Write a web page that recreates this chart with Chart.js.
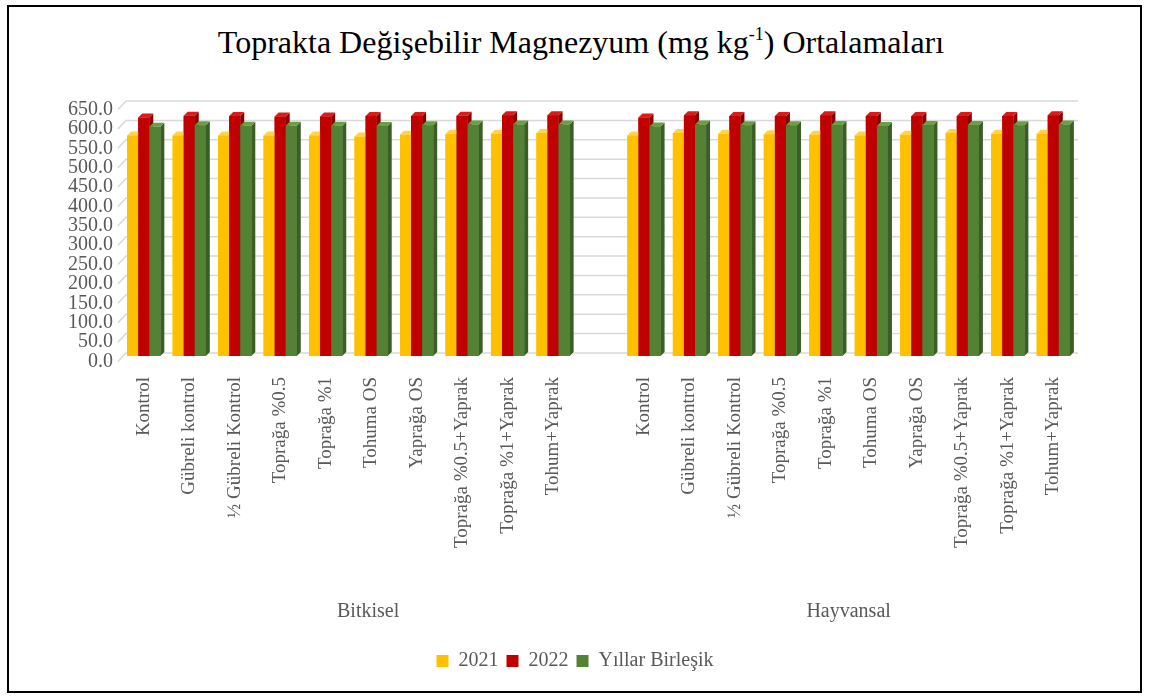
<!DOCTYPE html>
<html>
<head>
<meta charset="utf-8">
<script src="https://cdn.jsdelivr.net/npm/chart.js@4.4.1/dist/chart.umd.min.js"></script>
<style>
  html, body { margin: 0; padding: 0; background: #fff; }
  #wrap { position: relative; width: 1150px; height: 699px; overflow: hidden; }
  #frame { position: absolute; left: 7px; top: 5px; width: 1131px; height: 684px; border: 2px solid #000; }
  #title { position: absolute; left: 0; top: 24px; width: 1162px; text-align: center;
           font: 32px "Liberation Serif", "Times New Roman", serif; color: #000; }
  #title sup { font-size: 18px; vertical-align: 13px; line-height: 0; }
  canvas { position: absolute; left: 0; top: 0; }
</style>
</head>
<body>
<div id="wrap">
  <div id="frame"></div>
  <div id="title">Toprakta Değişebilir Magnezyum (mg kg<sup>-1</sup>) Ortalamaları</div>
  <canvas id="chart" width="1150" height="699"></canvas>
</div>
<script>
const categories = ["Kontrol", "Gübreli kontrol", "½ Gübreli Kontrol", "Toprağa %0.5", "Toprağa %1",
  "Tohuma OS", "Yaprağa OS", "Toprağa %0.5+Yaprak", "Toprağa %1+Yaprak", "Tohum+Yaprak"];
const groups = ["Bitkisel", "Hayvansal"];
const seriesNames = ["2021", "2022", "Yıllar Birleşik"];

const bitkisel2021 = [569, 569, 569, 569, 569, 566, 571, 573, 573, 575];
const bitkisel2022 = [615, 620, 619, 618, 618, 619, 619, 620, 621, 621];
const bitkiselBirlesik = [591, 595, 594, 594, 594, 593, 595, 597, 597, 597];

const hayvansal2021 = [569, 575, 573, 572, 571, 569, 571, 575, 573, 573];
const hayvansal2022 = [615, 621, 619, 619, 621, 619, 619, 619, 619, 621];
const hayvansalBirlesik = [592, 597, 595, 595, 596, 593, 596, 596, 595, 597];

const yTicks = [0, 50, 100, 150, 200, 250, 300, 350, 400, 450, 500, 550, 600, 650];

const colors = ["#FFC000", "#C00000", "#548235"];
const sideColors = ["#c79600", "#8a0000", "#3b5e25"];
const topColors = ["#ffd24a", "#dc1a1a", "#68a043"];

// one blank category between the two groups, like the Excel sheet
const labels = [...categories, "", ...categories];
const join = (a, b) => [...a, null, ...b];

const DEPTH = 4;      // bar 3D depth
const WALL_DX = 8;    // back wall offset
const WALL_UP = 3;
const LABEL_DOWN = 5.5;

const serif = "'Liberation Serif', 'Times New Roman', serif";

const threeD = {
  id: "threeD",
  beforeDatasetsDraw(chart) {
    const { ctx, chartArea, scales: { y } } = chart;
    ctx.save();
    ctx.strokeStyle = "#d9d9d9";
    ctx.lineWidth = 1.5;
    yTicks.forEach(v => {
      const py = y.getPixelForValue(v);
      ctx.beginPath();
      ctx.moveTo(chartArea.left - 3, py + LABEL_DOWN);
      ctx.lineTo(chartArea.left + WALL_DX - 3, py - WALL_UP);
      ctx.lineTo(chartArea.right + 2, py - WALL_UP);
      ctx.stroke();
    });
    ctx.restore();
  },
  afterDatasetsDraw(chart) {
    const { ctx } = chart;
    const metas = chart.data.datasets.map((d, i) => chart.getDatasetMeta(i));
    ctx.save();
    for (let i = 0; i < labels.length; i++) {
      metas.forEach((meta, di) => {
        const el = meta.data[i];
        const v = chart.data.datasets[di].data[i];
        if (!el || v === null) return;
        const xl = el.x - el.width / 2, xr = el.x + el.width / 2;
        const top = el.y, base = el.base;
        ctx.fillStyle = colors[di];
        ctx.fillRect(xl, top, xr - xl, base - top);
        ctx.fillStyle = sideColors[di];
        ctx.beginPath();
        ctx.moveTo(xr, top);
        ctx.lineTo(xr + DEPTH, top - DEPTH);
        ctx.lineTo(xr + DEPTH, base - DEPTH);
        ctx.lineTo(xr, base);
        ctx.closePath();
        ctx.fill();
        ctx.fillStyle = topColors[di];
        ctx.beginPath();
        ctx.moveTo(xl, top);
        ctx.lineTo(xl + DEPTH, top - DEPTH);
        ctx.lineTo(xr + DEPTH, top - DEPTH);
        ctx.lineTo(xr, top);
        ctx.closePath();
        ctx.fill();
      });
    }
    ctx.restore();
  },
  afterDraw(chart) {
    const { ctx, scales: { x } } = chart;
    ctx.save();
    ctx.font = "20px " + serif;
    ctx.fillStyle = "#595959";
    ctx.textAlign = "center";
    ctx.textBaseline = "middle";
    const n = categories.length;
    const c1 = (x.getPixelForValue(0) + x.getPixelForValue(n)) / 2;
    const c2 = (x.getPixelForValue(n + 1) + x.getPixelForValue(2 * n)) / 2;
    ctx.fillText(groups[0], c1 - 3, 612);
    ctx.fillText(groups[1], c2, 612);
    ctx.restore();
  }
};

new Chart(document.getElementById("chart").getContext("2d"), {
  type: "bar",
  data: {
    labels: labels,
    datasets: [
      { label: seriesNames[0], data: join(bitkisel2021, hayvansal2021), backgroundColor: colors[0] },
      { label: seriesNames[1], data: join(bitkisel2022, hayvansal2022), backgroundColor: colors[1] },
      { label: seriesNames[2], data: join(bitkiselBirlesik, hayvansalBirlesik), backgroundColor: colors[2] }
    ]
  },
  options: {
    responsive: false,
    animation: false,
    layout: { padding: { top: 104, left: 0, right: 0, bottom: 18 } },
    datasets: { bar: { barPercentage: 1, categoryPercentage: 0.73 } },
    plugins: {
      title: { display: false },
      tooltip: { enabled: false },
      legend: {
        position: "bottom",
        labels: {
          font: { family: serif, size: 20 },
          color: "#595959",
          boxWidth: 12,
          boxHeight: 12,
          padding: 8
        }
      }
    },
    scales: {
      x: {
        grid: { display: false, drawTicks: false },
        border: { display: false },
        ticks: {
          autoSkip: false,
          maxRotation: 90,
          minRotation: 90,
          padding: 21,
          color: "#595959",
          font: { family: serif, size: 19 }
        },
        afterFit(scale) { scale.height = 287; }
      },
      y: {
        min: 0,
        max: 650,
        grid: { display: false, drawTicks: false },
        border: { display: false },
        afterBuildTicks(scale) { scale.ticks = yTicks.map(v => ({ value: v })); },
        afterFit(scale) { scale.width = 121; },
        ticks: {
          autoSkip: false,
          padding: 8,
          labelOffset: LABEL_DOWN,
          color: "#595959",
          font: { family: serif, size: 20, lineHeight: 1 },
          callback: v => v.toFixed(1)
        }
      },
      // empty right-hand space so the legend stays centred on the page
      yRight: {
        position: "right",
        display: true,
        min: 0,
        max: 1,
        grid: { display: false, drawTicks: false },
        border: { display: false },
        ticks: { display: false },
        afterFit(scale) { scale.width = 74; }
      }
    }
  },
  plugins: [threeD]
});
</script>
</body>
</html>
